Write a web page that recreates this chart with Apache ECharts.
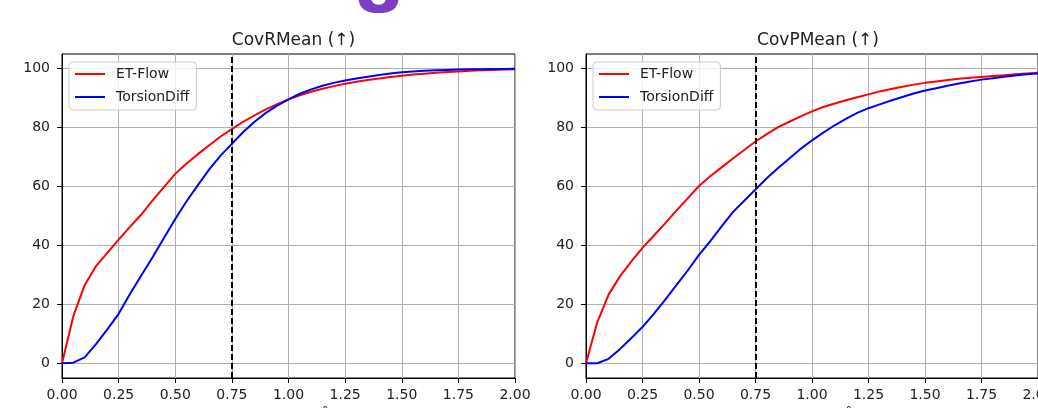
<!DOCTYPE html>
<html>
<head>
<meta charset="utf-8">
<script src="https://cdn.jsdelivr.net/npm/echarts@6/dist/echarts.min.js"></script>
<style>
  html, body { margin: 0; padding: 0; background: #fff; }
  #chart { width: 1038px; height: 408px; }
</style>
</head>
<body>
<div id="chart"></div>
<script>
// thresholds on the x axis
const thresholds = [0, 0.05, 0.1, 0.15, 0.2, 0.25, 0.3, 0.35, 0.4, 0.45,
  0.5, 0.55, 0.6, 0.65, 0.7, 0.75, 0.8, 0.85, 0.9, 0.95,
  1.0, 1.05, 1.1, 1.15, 1.2, 1.25, 1.3, 1.35, 1.4, 1.45,
  1.5, 1.55, 1.6, 1.65, 1.7, 1.75, 1.8, 1.85, 1.9, 1.95, 2.0];

// CovRMean
const covRFlow = [0, 16, 26.5, 33, 37.5, 42, 46.3, 50.5, 55.3, 59.8,
  64.3, 67.8, 71, 74, 77, 79.5, 82, 84.2, 86.2, 88,
  89.6, 91, 92.2, 93.2, 94.1, 94.9, 95.6, 96.2, 96.7, 97.2,
  97.6, 98, 98.3, 98.6, 98.9, 99.1, 99.3, 99.5, 99.6, 99.7, 99.8];
const covRTorsion = [0, 0.2, 2, 6.5, 11.5, 16.8, 23.5, 29.8, 36, 42.5,
  49, 55, 60.5, 65.8, 70.5, 74.5, 78.5, 82, 85, 87.5,
  89.6, 91.5, 93, 94.2, 95.2, 96, 96.7, 97.3, 97.9, 98.4,
  98.8, 99.1, 99.3, 99.5, 99.6, 99.7, 99.8, 99.85, 99.9, 99.9, 100];

// CovPMean
const covPFlow = [0, 14, 23.3, 29.5, 34.5, 39.2, 43.3, 47.5, 51.8, 56,
  60.2, 63.5, 66.5, 69.5, 72.4, 75.3, 77.8, 80.2, 82, 83.8,
  85.5, 87, 88.2, 89.3, 90.3, 91.3, 92.3, 93.1, 93.9, 94.6,
  95.2, 95.7, 96.2, 96.6, 96.9, 97.2, 97.5, 97.8, 98.1, 98.4, 98.6];
const covPTorsion = [0, 0, 1.5, 4.8, 8.5, 12.3, 16.8, 21.5, 26.5, 31.5,
  36.8, 41.5, 46.5, 51.3, 55.2, 59, 62.8, 66.3, 69.5, 72.8,
  75.7, 78.3, 80.8, 83, 85, 86.6, 87.9, 89.2, 90.4, 91.6,
  92.6, 93.4, 94.2, 95, 95.7, 96.3, 96.8, 97.3, 97.7, 98.1, 98.4];

const yTicks = [0, 20, 40, 60, 80, 100];
const cutoff = 0.75;
const titles = ['CovRMean (↑)', 'CovPMean (↑)'];
const seriesNames = ['ET-Flow', 'TorsionDiff'];
const colors = ['#ff0000', '#0000ff'];

const font = 'DejaVu Sans';
const grids = [
  { left: 62, top: 54, width: 453, height: 324 },
  { left: 586, top: 54, width: 452, height: 324 }
];

function pairs(values) {
  return thresholds.map((x, i) => [x, values[i]]);
}

function makeX(gi) {
  return {
    type: 'value', gridIndex: gi, min: 0, max: 2, interval: 0.25,
    axisLine: { show: true, onZero: false, lineStyle: { color: '#000', width: 1 } },
    axisTick: { show: true, length: 5, lineStyle: { color: '#000', width: 1 } },
    axisLabel: { color: '#222', fontSize: 14, fontFamily: font, margin: 10,
      formatter: v => v.toFixed(2) },
    splitLine: { show: true, lineStyle: { color: '#b0b0b0', width: 1 } },
    name: 'Threshold (Å)', nameLocation: 'middle', nameGap: 30,
    nameTextStyle: { color: '#222', fontSize: 14, fontFamily: font }
  };
}

function makeY(gi) {
  return {
    type: 'value', gridIndex: gi, min: -5, max: 105,
    axisLine: { show: true, onZero: false, lineStyle: { color: '#000', width: 1 } },
    axisTick: { show: true, length: 5, customValues: yTicks, lineStyle: { color: '#000', width: 1 } },
    axisLabel: { color: '#222', fontSize: 14, fontFamily: font, margin: 12, customValues: yTicks },
    splitLine: { show: true, lineStyle: { color: '#b0b0b0', width: 1 } }
  };
}

const chart = echarts.init(document.getElementById('chart'));

const dataSets = [[covRFlow, covRTorsion], [covPFlow, covPTorsion]];
const series = [];
dataSets.forEach((pair, gi) => {
  pair.forEach((vals, k) => {
    series.push({
      name: seriesNames[k], type: 'line',
      xAxisIndex: gi, yAxisIndex: gi,
      data: pairs(vals),
      color: colors[k],
      showSymbol: false, symbol: 'none',
      lineStyle: { width: 2, color: colors[k] },
      z: 3,
      markLine: k === 0 ? {
        silent: true, symbol: ['none', 'none'], label: { show: false },
        lineStyle: { color: '#000', type: [6, 3], width: 2 },
        data: [{ xAxis: cutoff }]
      } : undefined
    });
  });
});

chart.setOption({
  animation: false,
  backgroundColor: '#fff',
  title: titles.map((t, i) => ({
    text: t,
    left: grids[i].left + grids[i].width / 2 + (i === 1 ? 1 : 0),
    top: 27,
    textAlign: 'center',
    textStyle: { fontSize: 17, fontWeight: 'normal', color: '#222', fontFamily: font }
  })),
  legend: [0, 1].map(i => ({
    orient: 'vertical', left: [69, 593][i], top: 62,
    data: seriesNames, icon: 'rect', itemWidth: 30, itemHeight: 2, itemGap: 9,
    textStyle: { fontSize: 14, color: '#222', fontFamily: font, padding: [0, 0, 0, 6] },
    backgroundColor: 'rgba(255,255,255,0.8)', borderColor: '#cccccc', borderWidth: 1,
    borderRadius: 4, padding: [5, 7, 6, 6], selectedMode: false
  })),
  grid: grids.map(g => Object.assign({ show: true, borderColor: '#000', borderWidth: 1,
    backgroundColor: 'transparent', containLabel: false, outerBoundsMode: 'none' }, g)),
  xAxis: [makeX(0), makeX(1)],
  yAxis: [makeY(0), makeY(1)],
  graphic: [{
    type: 'text', x: 378.5, y: -6,
    style: { text: '8', fontSize: 70, fontWeight: 'bold', fontFamily: font,
      fill: '#7b3fc4', align: 'center', verticalAlign: 'middle' }
  }],
  series: series
});
</script>
</body>
</html>
